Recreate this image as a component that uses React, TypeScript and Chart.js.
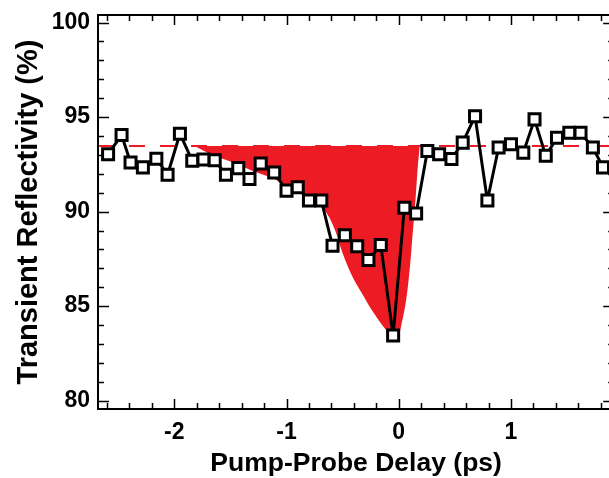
import React, { useEffect, useRef } from "react";
import { Chart, registerables } from "chart.js";

Chart.register(...registerables);

// Measured data (pump-probe delay in ps, transient reflectivity in %)
const DELAY = [
  -2.59, -2.47, -2.39, -2.28, -2.16, -2.06, -1.95, -1.84, -1.74, -1.64, -1.54,
  -1.43, -1.33, -1.23, -1.11, -1.0, -0.9, -0.8, -0.69, -0.59, -0.48, -0.37,
  -0.27, -0.16, -0.05, 0.05, 0.155, 0.255, 0.36, 0.47, 0.57, 0.68, 0.79, 0.89,
  1.0, 1.11, 1.21, 1.31, 1.41, 1.52, 1.62, 1.73, 1.82,
];
const REFLECTIVITY = [
  93.04, 94.05, 92.6, 92.34, 92.8, 91.95, 94.12, 92.69, 92.76, 92.72, 91.95,
  92.3, 91.73, 92.55, 92.07, 91.11, 91.29, 90.59, 90.59, 88.19, 88.75, 88.17,
  87.44, 88.23, 83.45, 90.2, 89.9, 93.21, 93.04, 92.78, 93.65, 95.05, 90.59,
  93.39, 93.56, 93.12, 94.88, 92.95, 93.91, 94.17, 94.17, 93.39, 92.34,
];

// Red filled dip (outline)
const FIT_X = [
  -1.82, -1.7, -1.5, -1.3, -1.1, -0.95, -0.8, -0.7, -0.62, -0.56, -0.5, -0.42,
  -0.33, -0.23, -0.14, -0.06, -0.01, 0.03, 0.07, 0.1, 0.125, 0.15, 0.17, 0.187,
];
const FIT_Y = [
  93.47, 93.1, 92.65, 92.15, 91.7, 91.2, 90.75, 90.35, 89.7, 88.9, 87.8, 86.65,
  85.7, 84.7, 83.94, 83.45, 83.3, 84.2, 85.5, 87.1, 88.9, 90.7, 92.4, 93.47,
];

const BASELINE = 93.47;

const X_MIN = -2.68;
const X_MAX = 1.92;
const Y_MIN = 79.56;
const Y_MAX = 100.4;
const X_TICKS = [-2, -1, 0, 1];
const Y_TICKS = [80, 85, 90, 95, 100];

const RED = "rgb(237,28,36)";
const FONT = "'Liberation Sans', Arial, Helvetica, sans-serif";

const framePlugin = {
  id: "frameTicks",
  afterDraw(chart: any) {
    const { ctx, chartArea } = chart;
    const { left, right, top, bottom } = chartArea;
    const xs = chart.scales.x;
    const ys = chart.scales.y;
    ctx.save();
    ctx.strokeStyle = "#000";
    ctx.lineWidth = 1.5;
    ctx.beginPath();
    for (let k = Math.ceil(X_MIN / 0.2); k * 0.2 <= X_MAX + 1e-9; k++) {
      const v = k * 0.2;
      const major = Math.abs(v - Math.round(v)) < 1e-6;
      const len = major ? 10 : 6;
      const px = Math.round(xs.getPixelForValue(v)) + 0.5;
      ctx.moveTo(px, bottom);
      ctx.lineTo(px, bottom - len);
      ctx.moveTo(px, top);
      ctx.lineTo(px, top + len);
    }
    for (let k = Math.ceil(Y_MIN); k <= Y_MAX; k++) {
      const major = k % 5 === 0;
      const len = major ? 11 : 6;
      const py = Math.round(ys.getPixelForValue(k)) + 0.5;
      ctx.moveTo(left, py);
      ctx.lineTo(left + len, py);
      ctx.moveTo(right, py);
      ctx.lineTo(right - len, py);
    }
    ctx.stroke();
    ctx.lineWidth = 2;
    ctx.strokeRect(left, top, right - left, bottom - top);
    ctx.restore();
  },
};

export default function App() {
  const ref = useRef<HTMLCanvasElement | null>(null);

  useEffect(() => {
    if (!ref.current) return;
    const points = DELAY.map((d, i) => ({ x: d, y: REFLECTIVITY[i] }));
    const fit = FIT_X.map((d, i) => ({ x: d, y: FIT_Y[i] }));
    const base = [
      { x: X_MIN, y: BASELINE },
      { x: X_MAX, y: BASELINE },
    ];
    const chart = new Chart(ref.current, {
      type: "line",
      data: {
        datasets: [
          {
            data: points,
            order: 0,
            borderColor: "#000",
            borderWidth: 3,
            borderJoinStyle: "round",
            pointStyle: "rect",
            pointRadius: 7.8,
            pointBorderWidth: 3,
            pointBackgroundColor: "#fff",
            pointBorderColor: "#000",
            fill: false,
          },
          {
            data: base,
            order: 1,
            borderColor: RED,
            borderWidth: 2,
            borderDash: [16, 15],
            pointRadius: 0,
            fill: false,
          },
          {
            data: fit,
            order: 2,
            borderWidth: 0,
            borderColor: RED,
            backgroundColor: RED,
            pointRadius: 0,
            cubicInterpolationMode: "monotone",
            fill: { value: BASELINE },
          },
        ],
      } as any,
      options: {
        responsive: false,
        animation: false,
        devicePixelRatio: 1,
        layout: { padding: { top: 15, right: 9, left: 0, bottom: 0 } },
        plugins: {
          legend: { display: false },
          tooltip: { enabled: false },
        },
        scales: {
          x: {
            type: "linear",
            min: X_MIN,
            max: X_MAX,
            grid: { display: false, drawTicks: false },
            border: { display: false },
            afterBuildTicks: (s: any) => {
              s.ticks = X_TICKS.map((v) => ({ value: v }));
            },
            afterFit: (s: any) => {
              s.height = 69;
              s.paddingLeft = 0;
              s.paddingRight = 0;
            },
            ticks: {
              color: "#000",
              padding: 10,
              maxRotation: 0,
              font: { family: FONT, size: 23, weight: "bold" },
              callback: (v: any) => String(v),
            },
            title: {
              display: true,
              text: "Pump-Probe Delay (ps)",
              color: "#000",
              font: { family: FONT, size: 26.5, weight: "bold", lineHeight: 1 },
              padding: { top: 0, bottom: 1 },
            },
          },
          y: {
            type: "linear",
            min: Y_MIN,
            max: Y_MAX,
            grid: { display: false, drawTicks: false },
            border: { display: false },
            afterBuildTicks: (s: any) => {
              s.ticks = Y_TICKS.map((v) => ({ value: v }));
            },
            afterFit: (s: any) => {
              s.width = 98;
              s.paddingTop = 0;
              s.paddingBottom = 0;
            },
            ticks: {
              color: "#000",
              padding: 8,
              font: { family: FONT, size: 23, weight: "bold" },
              callback: (v: any) => String(v),
            },
            title: {
              display: true,
              text: "Transient Reflectivity (%)",
              color: "#000",
              font: { family: FONT, size: 29, weight: "bold", lineHeight: 1 },
              padding: { top: 14, bottom: 0 },
            },
          },
        },
      } as any,
      plugins: [framePlugin],
    });
    return () => chart.destroy();
  }, []);

  return (
    <div
      style={{
        position: "fixed",
        left: 0,
        top: 0,
        width: 609,
        height: 478,
        overflow: "hidden",
        background: "#fff",
      }}
    >
      <canvas
        ref={ref}
        width={625}
        height={478}
        style={{ display: "block", width: 625, height: 478 }}
      />
    </div>
  );
}
